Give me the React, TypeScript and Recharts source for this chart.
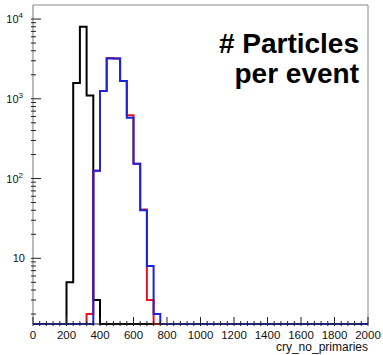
import React from "react";
import { LineChart, Line, XAxis, YAxis, ReferenceLine } from "recharts";

// histogram binning: 50 bins of width 40 over [0, 2000]
const BIN_WIDTH = 40;
const N_BINS = 50;
const X_MAX = 2000;
const Y_MIN = 1.5;
const Y_MAX = 15000;

// bin contents, listed from the first non-empty bin (low edge given)
const blackStart = 200;
const blackCounts = [5, 1580, 8000, 1100, 3];
const redStart = 320;
const redCounts = [2, 125, 1250, 3250, 3200, 1670, 620, 153, 41, 3];
const blueStart = 360;
const blueCounts = [125, 1250, 3200, 3200, 1670, 578, 153, 40, 8, 2];

const xMajorLabels = [0, 200, 400, 600, 800, 1000, 1200, 1400, 1600, 1800, 2000];

const fill = (start: number, counts: number[]) => {
  const out = new Array(N_BINS).fill(0);
  counts.forEach((c, i) => (out[start / BIN_WIDTH + i] = c));
  return out;
};

const black = fill(blackStart, blackCounts);
const red = fill(redStart, redCounts);
const blue = fill(blueStart, blueCounts);

// empty bins sit on the bottom of the log axis
const floor = (v: number) => (v > 0 ? v : Y_MIN);

const data = Array.from({ length: N_BINS + 1 }, (_, i) => {
  const j = Math.min(i, N_BINS - 1);
  return { x: i * BIN_WIDTH, black: floor(black[j]), red: floor(red[j]), blue: floor(blue[j]) };
});

const xTicks = Array.from({ length: X_MAX / BIN_WIDTH + 1 }, (_, i) => i * BIN_WIDTH);
const yTicks: number[] = [];
for (let e = 0; e <= 4; e++) {
  for (let m = 1; m <= 9; m++) {
    const v = m * Math.pow(10, e);
    if (v >= Y_MIN && v <= Y_MAX) yTicks.push(v);
  }
}

const FONT = "'Liberation Sans', Arial, Helvetica, sans-serif";

const XTick = (props: any) => {
  const { x, y, payload } = props;
  const v = payload.value;
  const major = xMajorLabels.includes(v);
  return (
    <g>
      <line x1={x} x2={x} y1={y} y2={y - (major ? 9 : 5)} stroke="#222" strokeWidth={1} />
      {major && (
        <text x={x} y={y + 13} textAnchor="middle" fontSize={11.5} fill="#111" fontFamily={FONT}>
          {v}
        </text>
      )}
    </g>
  );
};

const YTick = (props: any) => {
  const { x, y, payload } = props;
  const v = payload.value;
  const lg = Math.log10(v);
  const exp = Math.round(lg);
  const major = Math.abs(lg - exp) < 1e-6;
  return (
    <g>
      <line x1={x} x2={x + (major ? 10 : 5)} y1={y} y2={y} stroke="#222" strokeWidth={1} />
      {major && exp === 1 && (
        <text x={x - 6} y={y + 4} textAnchor="end" fontSize={11} fill="#111" fontFamily={FONT}>
          10
        </text>
      )}
      {major && exp > 1 && (
        <text x={x - 8} y={y + 4} textAnchor="end" fontSize={11} fill="#111" fontFamily={FONT}>
          10
          <tspan dy={-5} fontSize={8}>
            {exp}
          </tspan>
        </text>
      )}
    </g>
  );
};

const App = () => {
  return (
    <div style={{ position: "absolute", left: 0, top: 0, width: 383, height: 355, background: "#fff" }}>
      <LineChart width={383} height={355} data={data} margin={{ top: 5, right: 15, left: 3, bottom: 0 }}>
        <XAxis
          dataKey="x"
          type="number"
          domain={[0, X_MAX]}
          ticks={xTicks}
          interval={0}
          tickSize={0}
          tickLine={false}
          tick={<XTick />}
          height={31}
          stroke="#222"
        />
        <YAxis
          type="number"
          scale="log"
          domain={[Y_MIN, Y_MAX]}
          ticks={yTicks}
          interval={0}
          tickSize={0}
          tickLine={false}
          tick={<YTick />}
          width={30}
          stroke="#777"
        />
        <ReferenceLine y={Y_MAX} stroke="#888" strokeWidth={1} />
        <ReferenceLine x={X_MAX} stroke="#888" strokeWidth={1} />
        <Line type="stepAfter" dataKey="black" stroke="#000" strokeWidth={2} dot={false} isAnimationActive={false} />
        <Line type="stepAfter" dataKey="red" stroke="#e8141c" strokeWidth={2} dot={false} isAnimationActive={false} />
        <Line type="stepAfter" dataKey="blue" stroke="#1a24d8" strokeWidth={2} dot={false} isAnimationActive={false} />
      </LineChart>
      <div
        style={{
          position: "absolute",
          right: 24,
          top: 29,
          textAlign: "right",
          fontFamily: FONT,
          fontWeight: "bold",
          fontSize: 28,
          lineHeight: "30px",
          color: "#000",
        }}
      >
        # Particles
        <br />
        per event
      </div>
      <div
        style={{
          position: "absolute",
          right: 15,
          top: 341,
          fontFamily: FONT,
          fontSize: 12,
          lineHeight: "13px",
          color: "#111",
        }}
      >
        cry_no_primaries
      </div>
    </div>
  );
};

export default App;
